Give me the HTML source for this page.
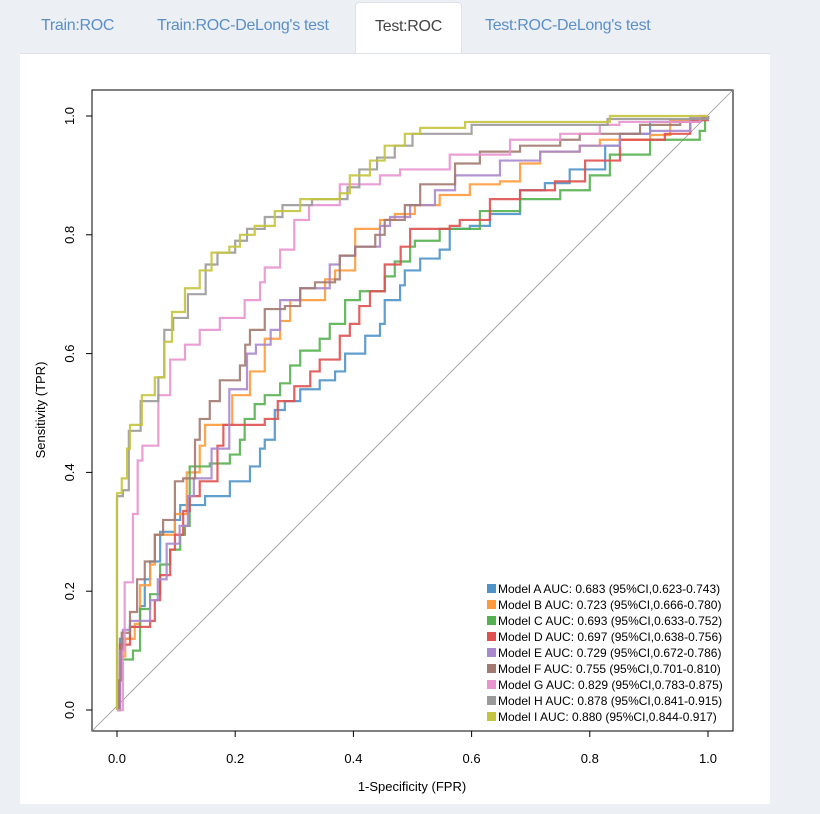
<!DOCTYPE html>
<html><head><meta charset="utf-8"><style>
body{margin:0;width:820px;height:814px;background:#ecf0f5;font-family:"Liberation Sans",sans-serif;position:relative;overflow:hidden}
.tab{position:absolute;top:0;height:52px;line-height:52px;font-size:16px;color:#5b8fc7;letter-spacing:-0.3px}
#active{background:#fff;border:1px solid #dde2e8;border-bottom:none;border-radius:4px 4px 0 0;color:#444;top:2px;height:52px;line-height:48px;text-align:center}
#panel{position:absolute;left:20px;top:53px;width:750px;height:750px;background:#fff;border-top:1px solid #dde2e8}
</style></head><body>
<div class="tab" style="left:41px">Train:ROC</div>
<div class="tab" style="left:157px">Train:ROC-DeLong's test</div>
<div class="tab" id="active" style="left:355px;width:105px">Test:ROC</div>
<div class="tab" style="left:485px">Test:ROC-DeLong's test</div>
<div id="panel"></div>
<svg id="chart" width="820" height="814" style="position:absolute;left:0;top:0"></svg>
<script>
const names=["Model A","Model B","Model C","Model D","Model E","Model F","Model G","Model H","Model I"];
const aucs=["0.683 (95%CI,0.623-0.743)","0.723 (95%CI,0.666-0.780)","0.693 (95%CI,0.633-0.752)","0.697 (95%CI,0.638-0.756)","0.729 (95%CI,0.672-0.786)","0.755 (95%CI,0.701-0.810)","0.829 (95%CI,0.783-0.875)","0.878 (95%CI,0.841-0.915)","0.880 (95%CI,0.844-0.917)"];
const colors=["#4f93c8","#ff9a3c","#55b050","#df5050","#a988cc","#a27a70","#e993cf","#9a9a9a","#c4c43e"];
const ticks=[0,0.2,0.4,0.6,0.8,1.0];
const curveA=[[0,0],[0.005,0.12],[0.022,0.14],[0.039,0.175],[0.047,0.22],[0.056,0.25],[0.073,0.3],[0.098,0.32],[0.107,0.345],[0.149,0.36],[0.191,0.385],[0.225,0.41],[0.242,0.44],[0.25,0.455],[0.267,0.505],[0.284,0.52],[0.31,0.54],[0.343,0.555],[0.369,0.57],[0.386,0.6],[0.42,0.63],[0.445,0.65],[0.453,0.69],[0.479,0.715],[0.487,0.74],[0.513,0.76],[0.546,0.775],[0.563,0.81],[0.597,0.815],[0.631,0.835],[0.682,0.875],[0.724,0.887],[0.766,0.91],[0.826,0.95],[0.851,0.97],[0.902,0.99],[0.986,0.997],[1,1]];
const curveB=[[0,0],[0.005,0.09],[0.014,0.12],[0.03,0.145],[0.039,0.21],[0.056,0.245],[0.064,0.295],[0.098,0.33],[0.118,0.4],[0.14,0.445],[0.149,0.48],[0.195,0.53],[0.225,0.57],[0.25,0.625],[0.276,0.655],[0.293,0.69],[0.352,0.725],[0.369,0.74],[0.403,0.81],[0.445,0.825],[0.47,0.835],[0.504,0.85],[0.546,0.867],[0.597,0.885],[0.648,0.89],[0.682,0.92],[0.716,0.94],[0.783,0.95],[0.817,0.96],[0.902,0.968],[0.936,0.993],[0.986,0.997],[1,1]];
const curveC=[[0,0],[0.005,0.085],[0.027,0.1],[0.039,0.17],[0.056,0.195],[0.073,0.245],[0.09,0.27],[0.107,0.295],[0.115,0.31],[0.123,0.355],[0.123,0.41],[0.157,0.415],[0.191,0.43],[0.208,0.455],[0.216,0.49],[0.233,0.515],[0.25,0.53],[0.276,0.55],[0.293,0.58],[0.31,0.605],[0.343,0.625],[0.36,0.65],[0.386,0.69],[0.411,0.705],[0.453,0.73],[0.47,0.755],[0.496,0.78],[0.504,0.79],[0.546,0.81],[0.614,0.84],[0.682,0.86],[0.75,0.875],[0.8,0.9],[0.834,0.935],[0.902,0.96],[0.986,0.975],[0.995,0.997],[1,1]];
const curveD=[[0,0],[0.005,0.11],[0.022,0.14],[0.056,0.15],[0.064,0.185],[0.073,0.227],[0.09,0.27],[0.098,0.295],[0.112,0.335],[0.123,0.36],[0.14,0.385],[0.17,0.445],[0.18,0.48],[0.25,0.49],[0.272,0.52],[0.3,0.545],[0.327,0.57],[0.343,0.59],[0.377,0.63],[0.394,0.65],[0.41,0.68],[0.428,0.705],[0.453,0.75],[0.48,0.78],[0.496,0.81],[0.563,0.815],[0.58,0.825],[0.631,0.86],[0.682,0.875],[0.741,0.89],[0.792,0.925],[0.851,0.96],[0.927,0.97],[0.97,0.993],[1,1]];
const curveE=[[0,0],[0.005,0.1],[0.01,0.135],[0.022,0.15],[0.056,0.185],[0.069,0.22],[0.084,0.28],[0.106,0.31],[0.12,0.36],[0.13,0.39],[0.16,0.44],[0.19,0.5],[0.19,0.54],[0.22,0.6],[0.235,0.615],[0.26,0.64],[0.276,0.69],[0.31,0.71],[0.36,0.75],[0.377,0.765],[0.403,0.78],[0.445,0.815],[0.462,0.83],[0.496,0.85],[0.538,0.875],[0.572,0.9],[0.648,0.925],[0.716,0.94],[0.783,0.95],[0.851,0.97],[0.902,0.975],[0.97,0.997],[1,1]];
const curveF=[[0,0],[0.003,0.05],[0.008,0.13],[0.022,0.165],[0.034,0.22],[0.047,0.25],[0.064,0.295],[0.078,0.32],[0.098,0.385],[0.112,0.39],[0.132,0.455],[0.14,0.49],[0.157,0.52],[0.174,0.555],[0.208,0.58],[0.217,0.615],[0.225,0.64],[0.25,0.675],[0.284,0.68],[0.31,0.71],[0.335,0.72],[0.369,0.725],[0.377,0.765],[0.403,0.78],[0.437,0.8],[0.453,0.825],[0.487,0.85],[0.513,0.885],[0.572,0.92],[0.614,0.94],[0.682,0.95],[0.75,0.96],[0.783,0.97],[0.885,0.985],[0.953,0.99],[0.986,0.997],[1,1]];
const curveG=[[0,0],[0.01,0.1],[0.013,0.215],[0.027,0.33],[0.035,0.42],[0.043,0.445],[0.07,0.53],[0.09,0.59],[0.115,0.615],[0.14,0.64],[0.174,0.66],[0.216,0.69],[0.242,0.72],[0.25,0.745],[0.276,0.775],[0.3,0.825],[0.325,0.85],[0.377,0.885],[0.445,0.9],[0.479,0.91],[0.563,0.935],[0.665,0.96],[0.75,0.97],[0.817,0.985],[0.85,0.99],[0.986,1],[1,1]];
const curveH=[[0,0],[0,0.36],[0.01,0.37],[0.02,0.47],[0.04,0.52],[0.07,0.56],[0.08,0.64],[0.095,0.66],[0.12,0.70],[0.15,0.75],[0.17,0.77],[0.2,0.79],[0.22,0.81],[0.25,0.83],[0.28,0.85],[0.33,0.86],[0.39,0.88],[0.41,0.91],[0.44,0.93],[0.47,0.95],[0.5,0.97],[0.6,0.985],[0.83,0.995],[1,1]];
const curveI=[[0,0],[0,0.365],[0.008,0.39],[0.017,0.44],[0.022,0.48],[0.042,0.53],[0.064,0.56],[0.08,0.62],[0.093,0.67],[0.115,0.71],[0.14,0.74],[0.16,0.77],[0.19,0.78],[0.208,0.80],[0.233,0.815],[0.267,0.84],[0.31,0.86],[0.377,0.87],[0.394,0.90],[0.428,0.925],[0.453,0.95],[0.487,0.97],[0.513,0.98],[0.589,0.99],[0.834,1.0],[1,1]];
const curves=[curveA,curveB,curveC,curveD,curveE,curveF,curveG,curveH,curveI];

const svg=document.getElementById('chart');const NS='http://www.w3.org/2000/svg';
const X=v=>117+v*591, Y=v=>710-v*594;
function mk(t,a,p){const e=document.createElementNS(NS,t);for(const k in a)e.setAttribute(k,a[k]);(p||svg).appendChild(e);return e;}
const box=mk('rect',{x:92,y:90,width:641,height:641,fill:'none',stroke:'#000','stroke-width':1});


const diag=mk('line',{x1:92,y1:731,x2:733,y2:90,stroke:'#999','stroke-width':0.8});


ticks.forEach(t=>{
  const l=mk('line',{x1:X(t),x2:X(t),y1:731,y2:737,stroke:'#000'});
  
  
  const tx=mk('text',{x:X(t),y:763,'text-anchor':'middle','font-size':13});tx.textContent=t.toFixed(1);
  
  
  const l2=mk('line',{x1:86,x2:92,y1:Y(t),y2:Y(t),stroke:'#000'});
  
  
  const ty=mk('text',{x:0,y:0,'text-anchor':'middle','font-size':13,transform:`translate(74,${Y(t)}) rotate(-90)`});ty.textContent=t.toFixed(1);
  
  
});
const xt=mk('text',{x:412,y:791,'text-anchor':'middle','font-size':13});xt.textContent='1-Specificity (FPR)';


const yt=mk('text',{x:0,y:0,'text-anchor':'middle','font-size':13,transform:'translate(45,410) rotate(-90)'});yt.textContent='Sensitivity (TPR)';


curves.forEach((c,i)=>{
  let d=`M${X(c[0][0])},${Y(c[0][1])}`;
  for(let k=1;k<c.length;k++){d+=`H${X(c[k][0])}V${Y(c[k][1])}`;}
  const p=mk('path',{d,fill:'none',stroke:colors[i],'stroke-width':2.2,'stroke-opacity':0.9});
  
  
});
names.forEach((n,i)=>{
  const y=589+i*16;
  const r=mk('rect',{x:487,y:y-5,width:9,height:9,fill:colors[i]});
  
  
  const t=mk('text',{x:498,y:y+4,'font-size':12,fill:'#000'});t.textContent=n+' AUC: '+aucs[i];
  
  
});
</script>
</body></html>
